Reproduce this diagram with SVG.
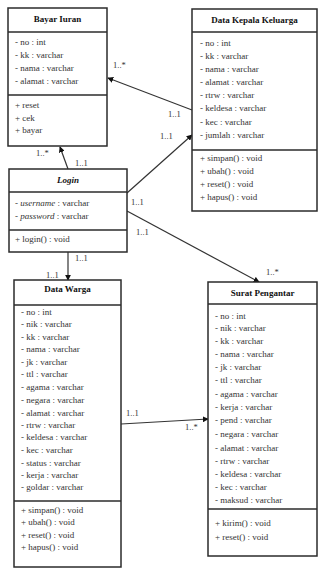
<svg xmlns="http://www.w3.org/2000/svg" width="321" height="568" viewBox="0 0 321 568">
  <style>
    .box { fill: #fff; stroke: #2b2b2b; stroke-width: 1.5; }
    .sep { stroke: #2b2b2b; stroke-width: 1.4; }
    .title { font-family: "Liberation Serif", serif; font-size: 9px; font-weight: bold; fill: #111; text-anchor: middle; }
    .item { font-family: "Liberation Serif", serif; font-size: 9px; fill: #333; }
    .lbl { font-family: "Liberation Serif", serif; font-size: 8.5px; fill: #333; }
    .conn { stroke: #333; stroke-width: 1.2; fill: none; marker-end: url(#arrow); }
  </style>
  <defs>
    <marker id="arrow" viewBox="0 0 8 8" refX="7" refY="4" markerWidth="6" markerHeight="6" orient="auto" markerUnits="userSpaceOnUse">
      <path d="M0,0 L8,4 L0,8 z" fill="#111"/>
    </marker>
  </defs>
  <rect width="321" height="568" fill="#fff"/>

  <!-- Connectors -->
  <g id="connectors">
    <line class="conn" x1="68" y1="169" x2="60" y2="147"/>
    <line class="conn" x1="192" y1="110" x2="108" y2="78"/>
    <line class="conn" x1="127" y1="193" x2="192" y2="135"/>
    <line class="conn" x1="127" y1="211" x2="259" y2="282"/>
    <line class="conn" x1="68" y1="252" x2="68" y2="280"/>
    <line class="conn" x1="121" y1="424" x2="208" y2="419"/>
    <text class="lbl" x="36" y="156">1..*</text>
    <text class="lbl" x="75" y="166">1..1</text>
    <text class="lbl" x="113" y="68">1..*</text>
    <text class="lbl" x="168" y="117">1..1</text>
    <text class="lbl" x="160" y="139">1..1</text>
    <text class="lbl" x="131" y="205">1..1</text>
    <text class="lbl" x="136" y="235">1..1</text>
    <text class="lbl" x="266" y="275">1..*</text>
    <text class="lbl" x="75" y="261">1..1</text>
    <text class="lbl" x="46" y="278">1..1</text>
    <text class="lbl" x="126" y="416">1..1</text>
    <text class="lbl" x="185" y="430">1..*</text>
  </g>

  <!-- Bayar Iuran -->
  <g id="bayar-iuran">
    <rect class="box" x="8" y="8" width="99" height="138"/>
    <line class="sep" x1="8" y1="32" x2="107" y2="32"/>
    <line class="sep" x1="8" y1="95" x2="107" y2="95"/>
    <text class="title" x="57.5" y="22">Bayar Iuran</text>
    <text class="item" x="15" y="45">- no : int</text>
    <text class="item" x="15" y="58">- kk : varchar</text>
    <text class="item" x="15" y="71">- nama : varchar</text>
    <text class="item" x="15" y="84">- alamat : varchar</text>
    <text class="item" x="15" y="108">+ reset</text>
    <text class="item" x="15" y="121">+ cek</text>
    <text class="item" x="15" y="133">+ bayar</text>
  </g>

  <!-- Data Kepala Keluarga -->
  <g id="data-kepala-keluarga">
    <rect class="box" x="192" y="9" width="125" height="202"/>
    <line class="sep" x1="192" y1="32" x2="317" y2="32"/>
    <line class="sep" x1="192" y1="150" x2="317" y2="150"/>
    <text class="title" x="254.5" y="23">Data Kepala Keluarga</text>
    <text class="item" x="200" y="46">- no : int</text>
    <text class="item" x="200" y="59">- kk : varchar</text>
    <text class="item" x="200" y="72">- nama : varchar</text>
    <text class="item" x="200" y="85">- alamat : varchar</text>
    <text class="item" x="200" y="98">- rtrw : varchar</text>
    <text class="item" x="200" y="111">- keldesa : varchar</text>
    <text class="item" x="200" y="125">- kec : varchar</text>
    <text class="item" x="200" y="138">- jumlah : varchar</text>
    <text class="item" x="200" y="161">+ simpan() : void</text>
    <text class="item" x="200" y="174">+ ubah() : void</text>
    <text class="item" x="200" y="187">+ reset() : void</text>
    <text class="item" x="200" y="200">+ hapus() : void</text>
  </g>

  <!-- Login -->
  <g id="login">
    <rect class="box" x="9" y="169" width="118" height="83"/>
    <line class="sep" x1="9" y1="192" x2="127" y2="192"/>
    <line class="sep" x1="9" y1="230" x2="127" y2="230"/>
    <text class="title" x="68" y="183" font-style="italic">Login</text>
    <text class="item" x="15" y="206">- <tspan font-style="italic">username</tspan> : varchar</text>
    <text class="item" x="15" y="219">- <tspan font-style="italic">password</tspan> : varchar</text>
    <text class="item" x="15" y="242">+ login() : void</text>
  </g>

  <!-- Data Warga -->
  <g id="data-warga">
    <rect class="box" x="14" y="280" width="107" height="287"/>
    <line class="sep" x1="14" y1="305" x2="121" y2="305"/>
    <line class="sep" x1="14" y1="501" x2="121" y2="501"/>
    <text class="title" x="67.5" y="292">Data Warga</text>
    <text class="item" x="21" y="315">- no : int</text>
    <text class="item" x="21" y="327">- nik : varchar</text>
    <text class="item" x="21" y="340">- kk : varchar</text>
    <text class="item" x="21" y="352">- nama : varchar</text>
    <text class="item" x="21" y="365">- jk : varchar</text>
    <text class="item" x="21" y="377">- ttl : varchar</text>
    <text class="item" x="21" y="390">- agama : varchar</text>
    <text class="item" x="21" y="403">- negara : varchar</text>
    <text class="item" x="21" y="416">- alamat : varchar</text>
    <text class="item" x="21" y="428">- rtrw : varchar</text>
    <text class="item" x="21" y="440">- keldesa : varchar</text>
    <text class="item" x="21" y="453">- kec : varchar</text>
    <text class="item" x="21" y="466">- status : varchar</text>
    <text class="item" x="21" y="478">- kerja : varchar</text>
    <text class="item" x="21" y="490">- goldar : varchar</text>
    <text class="item" x="21" y="513">+ simpan() : void</text>
    <text class="item" x="21" y="525">+ ubah() : void</text>
    <text class="item" x="21" y="538">+ reset() : void</text>
    <text class="item" x="21" y="550">+ hapus() : void</text>
  </g>

  <!-- Surat Pengantar -->
  <g id="surat-pengantar">
    <rect class="box" x="208" y="282" width="109" height="274"/>
    <line class="sep" x1="208" y1="304" x2="317" y2="304"/>
    <line class="sep" x1="208" y1="509" x2="317" y2="509"/>
    <text class="title" x="262.5" y="296">Surat Pengantar</text>
    <text class="item" x="215" y="319">- no : int</text>
    <text class="item" x="215" y="331">- nik : varchar</text>
    <text class="item" x="215" y="344">- kk : varchar</text>
    <text class="item" x="215" y="357">- nama : varchar</text>
    <text class="item" x="215" y="370">- jk : varchar</text>
    <text class="item" x="215" y="383">- ttl : varchar</text>
    <text class="item" x="215" y="397">- agama : varchar</text>
    <text class="item" x="215" y="410">- kerja : varchar</text>
    <text class="item" x="215" y="423">- pend : varchar</text>
    <text class="item" x="215" y="437">- negara : varchar</text>
    <text class="item" x="215" y="451">- alamat : varchar</text>
    <text class="item" x="215" y="464">- rtrw : varchar</text>
    <text class="item" x="215" y="477">- keldesa : varchar</text>
    <text class="item" x="215" y="490">- kec : varchar</text>
    <text class="item" x="215" y="503">- maksud : varchar</text>
    <text class="item" x="215" y="526">+ kirim() : void</text>
    <text class="item" x="215" y="540">+ reset() : void</text>
  </g>
</svg>
